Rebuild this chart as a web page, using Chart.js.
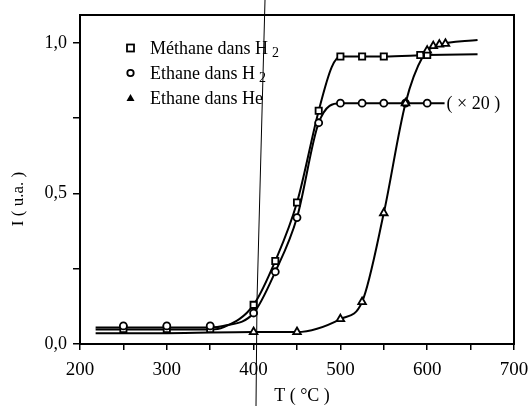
<!DOCTYPE html>
<html>
<head>
<meta charset="utf-8">
<script src="https://cdn.jsdelivr.net/npm/chart.js@4/dist/chart.umd.min.js"></script>
<style>
  html,body{margin:0;padding:0;background:#fff}
  #wrap{width:528px;height:406px;position:relative}
</style>
</head>
<body>
<div id="wrap"><canvas id="c"></canvas></div>
<script>
// measured points (T in °C, I in u.a.)
const methaneT=[250,300,350,400,425,450,475,500,525,550,592,600];
const methaneI=[0.05,0.05,0.05,0.13,0.276,0.47,0.775,0.955,0.955,0.955,0.96,0.96];
const ethaneH2T=[250,300,350,400,425,450,475,500,525,550,575,600];
const ethaneH2I=[0.06,0.06,0.06,0.103,0.24,0.42,0.735,0.80,0.80,0.80,0.80,0.80];
const ethaneHeT=[400,450,500,525,550,575,600,607,614,621];
const ethaneHeI=[0.04,0.04,0.083,0.14,0.435,0.80,0.975,0.99,0.995,0.998];

// hand drawn curves through the points
const methaneCurveT=[218,250,300,350,365,400,425,450,475,490,500,550,600,658];
const methaneCurveI=[0.048,0.048,0.048,0.048,0.055,0.13,0.276,0.47,0.775,0.92,0.955,0.955,0.96,0.963];
const ethaneH2CurveT=[218,250,300,350,365,400,425,450,475,500,550,620];
const ethaneH2CurveI=[0.055,0.055,0.055,0.055,0.06,0.103,0.24,0.42,0.735,0.80,0.80,0.80];
const ethaneHeCurveT=[218,300,400,450,500,525,550,575,595,610,658];
const ethaneHeCurveI=[0.036,0.036,0.04,0.04,0.083,0.14,0.435,0.80,0.955,0.99,1.01];

const xTicks=[200,300,400,500,600,700];
const yTicks=[0,0.5,1.0];
const legendLabels=['Méthane dans H','Ethane dans H','Ethane dans He'];
const legendSubs=['2','2',''];
const factorNote='( × 20 )';

const pts=(xs,ys)=>xs.map((x,i)=>({x,y:ys[i]}));
const serif='"Liberation Serif","DejaVu Serif",serif';

const curve=(xs,ys)=>({type:'line',data:pts(xs,ys),borderColor:'#000',borderWidth:2,pointRadius:0,
  cubicInterpolationMode:'monotone',fill:false,order:2});
const marks=(xs,ys,style,r)=>({type:'scatter',data:pts(xs,ys),pointStyle:style,pointRadius:r,
  pointBackgroundColor:'#fff',pointBorderColor:'#000',pointBorderWidth:1.8,showLine:false,order:1});

const frame={
  id:'frame',
  beforeDraw(chart){
    const {ctx}=chart;ctx.save();ctx.fillStyle='#fff';ctx.fillRect(0,0,chart.width,chart.height);ctx.restore();
  },
  afterDraw(chart){
    const {ctx,chartArea:a,scales:{x,y}}=chart;
    ctx.save();
    ctx.strokeStyle='#000';ctx.lineWidth=2;
    ctx.strokeRect(a.left,a.top,a.right-a.left,a.bottom-a.top);
    // legend
    ctx.fillStyle='#000';ctx.textBaseline='middle';
    const rows=[48,73,98];
    rows.forEach((ry,i)=>{
      ctx.lineWidth=1.8;ctx.strokeStyle='#000';
      if(i===0){ctx.strokeRect(127,ry-3.5,7,7);}
      else if(i===1){ctx.beginPath();ctx.arc(130.5,ry,3.2,0,Math.PI*2);ctx.stroke();}
      else{ctx.beginPath();ctx.moveTo(130.5,ry-4);ctx.lineTo(134.5,ry+3);ctx.lineTo(126.5,ry+3);ctx.closePath();ctx.fill();}
      ctx.font='18px '+serif;ctx.textAlign='left';
      ctx.fillText(legendLabels[i],150,ry+1);
      if(legendSubs[i]){
        const w=ctx.measureText(legendLabels[i]).width;
        ctx.font='14px '+serif;ctx.fillText(legendSubs[i],150+w+4,ry+5);
      }
    });
    // factor note at the end of the ethane/H2 curve
    const ex=x.getPixelForValue(ethaneH2CurveT[ethaneH2CurveT.length-1]);
    const ey=y.getPixelForValue(ethaneH2CurveI[ethaneH2CurveI.length-1]);
    ctx.font='18px '+serif;ctx.textAlign='left';ctx.fillText(factorNote,ex+2,ey+1);
    // axis titles
    ctx.textAlign='center';ctx.font='18px '+serif;
    ctx.fillText('T ( °C )',(a.left+a.right)/2+5,396);
    ctx.save();ctx.translate(19,199);ctx.rotate(-Math.PI/2);ctx.font='17px '+serif;ctx.fillText('I ( u.a. )',0,0);ctx.restore();
    // scanner streak in the original
    ctx.lineWidth=1;ctx.beginPath();ctx.moveTo(265,0);ctx.lineTo(257,300);ctx.lineTo(256,406);ctx.stroke();
    ctx.restore();
  }
};

new Chart(document.getElementById('c'),{
  data:{datasets:[
    curve(methaneCurveT,methaneCurveI),
    curve(ethaneH2CurveT,ethaneH2CurveI),
    curve(ethaneHeCurveT,ethaneHeCurveI),
    marks(ethaneHeT,ethaneHeI,'triangle',4.4),
    marks(ethaneH2T,ethaneH2I,'circle',3.5),
    marks(methaneT,methaneI,'rect',4.4)
  ]},
  options:{
    responsive:true,maintainAspectRatio:false,animation:false,
    layout:{padding:{top:15,right:14,left:0,bottom:0}},
    plugins:{legend:{display:false},tooltip:{enabled:false}},
    scales:{
      x:{type:'linear',min:200,max:700,
        afterFit(s){s.height=62;s.paddingLeft=0;s.paddingRight=0;},
        border:{display:false},
        grid:{drawOnChartArea:false,drawTicks:true,tickLength:6,color:'#000',lineWidth:1.5},
        ticks:{stepSize:50,color:'#000',padding:9,maxRotation:0,autoSkip:false,
          font:{family:serif,size:19},
          callback:v=>xTicks.includes(v)?String(v):''}},
      y:{type:'linear',min:0,max:1.093,
        afterFit(s){s.width=80;s.paddingTop=0;s.paddingBottom=0;},
        border:{display:false},
        grid:{drawOnChartArea:false,drawTicks:true,tickLength:7,color:'#000',lineWidth:1.5},
        ticks:{stepSize:0.25,includeBounds:false,color:'#000',padding:6,
          font:{family:serif,size:18},
          callback:v=>yTicks.some(t=>Math.abs(t-v)<1e-6)?v.toFixed(1).replace('.',','):''}}
    }
  },
  plugins:[frame]
});
</script>
</body>
</html>
